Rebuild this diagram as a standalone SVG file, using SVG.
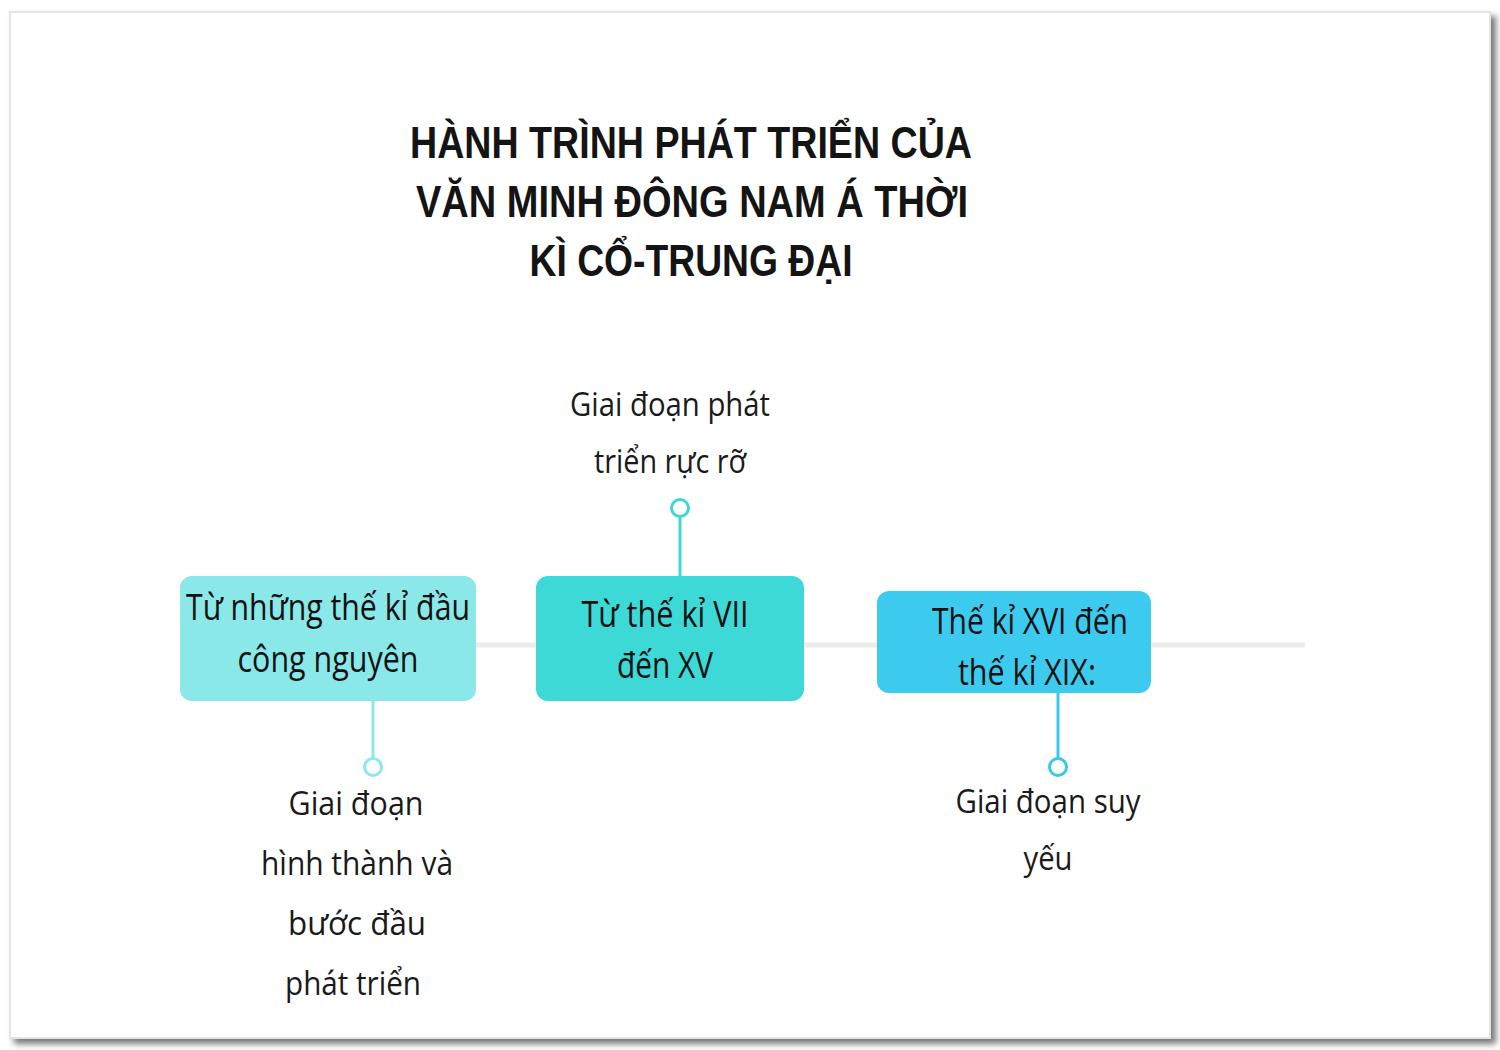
<svg xmlns="http://www.w3.org/2000/svg" width="1500" height="1050" viewBox="0 0 1500 1050">
<style>
.title{font-family:"Liberation Sans","DejaVu Sans",sans-serif;font-weight:bold;font-size:44px;fill:#141414;text-anchor:middle}
.box{font-family:"Open Sans","Noto Sans",sans-serif;font-size:36px;fill:#111;text-anchor:middle}
.lbl{font-family:"Open Sans","Noto Sans",sans-serif;font-size:33px;fill:#1a1a1a;text-anchor:middle}
.dot{fill:#fff;stroke-width:3}
</style>
<defs>
<filter id="sh" x="-5%" y="-5%" width="110%" height="110%"><feGaussianBlur stdDeviation="3"/></filter>
</defs>
<rect x="0" y="0" width="1500" height="1050" fill="#fff"/>
<rect x="14" y="16" width="1482" height="1028" fill="#777" filter="url(#sh)"/>
<rect x="10" y="12" width="1480" height="1026" fill="#fff" stroke="#e4e4e4" stroke-width="2"/>

<g id="title">
<text class="title" x="691" y="158" textLength="562" lengthAdjust="spacingAndGlyphs">HÀNH TRÌNH PHÁT TRIỂN CỦA</text>
<text class="title" x="692" y="217" textLength="552" lengthAdjust="spacingAndGlyphs">VĂN MINH ĐÔNG NAM Á THỜI</text>
<text class="title" x="691" y="276" textLength="323" lengthAdjust="spacingAndGlyphs">KÌ CỔ-TRUNG ĐẠI</text>
</g>

<g id="connectors">
<line x1="330" y1="645" x2="1305" y2="645" stroke="#ececec" stroke-width="5"/>
<line x1="373" y1="700" x2="373" y2="758" stroke="#8ae8e8" stroke-width="3"/>
<line x1="680" y1="517" x2="680" y2="578" stroke="#3dd9d6" stroke-width="3"/>
<line x1="1058" y1="692" x2="1058" y2="758" stroke="#38c8ee" stroke-width="3"/>
</g>

<g id="node1">
<rect x="180" y="576" width="296" height="125" rx="12" fill="#8ae8e8"/>
<text class="box" x="328" y="620" textLength="284" lengthAdjust="spacingAndGlyphs">Từ những thế kỉ đầu</text>
<text class="box" x="328" y="672" textLength="181" lengthAdjust="spacingAndGlyphs">công nguyên</text>
</g>
<g id="node2">
<rect x="536" y="576" width="268" height="125" rx="12" fill="#3dd9d6"/>
<text class="box" x="665" y="627" textLength="167" lengthAdjust="spacingAndGlyphs">Từ thế kỉ VII</text>
<text class="box" x="665" y="678" textLength="96" lengthAdjust="spacingAndGlyphs">đến XV</text>
</g>
<g id="node3">
<rect x="877" y="591" width="274" height="102" rx="12" fill="#3ccbef"/>
<text class="box" x="1030" y="634" textLength="196" lengthAdjust="spacingAndGlyphs">Thế kỉ XVI đến</text>
<text class="box" x="1027" y="685" textLength="138" lengthAdjust="spacingAndGlyphs">thế kỉ XIX:</text>
</g>

<g id="label1">
<circle class="dot" cx="373" cy="767" r="8.5" stroke="#8ae8e8"/>
<text class="lbl" x="356" y="815" textLength="135" lengthAdjust="spacingAndGlyphs">Giai đoạn</text>
<text class="lbl" x="357" y="875" textLength="192" lengthAdjust="spacingAndGlyphs">hình thành và</text>
<text class="lbl" x="357" y="935" textLength="138" lengthAdjust="spacingAndGlyphs">bước đầu</text>
<text class="lbl" x="353" y="995" textLength="136" lengthAdjust="spacingAndGlyphs">phát triển</text>
</g>
<g id="label2">
<circle class="dot" cx="680" cy="508" r="8.5" stroke="#3dd9d6"/>
<text class="lbl" x="670" y="416" textLength="200" lengthAdjust="spacingAndGlyphs">Giai đoạn phát</text>
<text class="lbl" x="670" y="473" textLength="152" lengthAdjust="spacingAndGlyphs">triển rực rỡ</text>
</g>
<g id="label3">
<circle class="dot" cx="1058" cy="767" r="8.5" stroke="#38c8ee"/>
<text class="lbl" x="1048" y="813" textLength="185" lengthAdjust="spacingAndGlyphs">Giai đoạn suy</text>
<text class="lbl" x="1048" y="870" textLength="49" lengthAdjust="spacingAndGlyphs">yếu</text>
</g>
</svg>
